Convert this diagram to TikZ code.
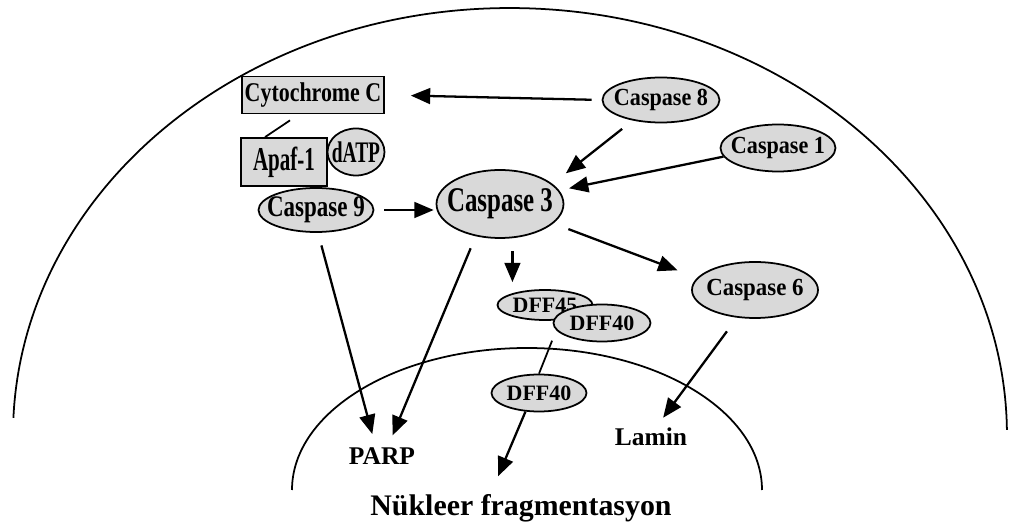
\documentclass[tikz,border=0pt]{standalone}
\usepackage{fontspec}
\setmainfont{Liberation Serif}
\usetikzlibrary{arrows.meta,shapes.geometric,calc}
\newcommand{\narrowtxt}[2]{\makebox[0pt]{\scalebox{#1}[1]{#2}}}
\tikzset{
  casp/.style={ellipse, draw, line width=1pt, fill=gray!30, inner sep=0pt,
    font=\bfseries\fontsize{14}{15}\selectfont},
  boxed/.style={rectangle, draw, line width=1pt, fill=gray!30, inner sep=0pt},
  lbl/.style={inner sep=2pt, font=\bfseries\fontsize{14.5}{16}\selectfont},
  arr/.style={line width=1.3pt, -{Triangle[length=11pt,width=9pt]}},
  link/.style={line width=1pt},
  memb/.style={line width=1pt}
}

\begin{document}
\begin{tikzpicture}[x=0.02cm, y=0.02cm]
\useasboundingbox (0,0) rectangle (1009,-530);

    % Cell membrane and nucleus.
    \draw[memb] (13.4,-417.9) arc[start angle=177.7, end angle=0.7, x radius=497, y radius=427];
    \draw[memb] (292,-490) arc[start angle=180, end angle=0, x radius=235, y radius=142];

    % Mitochondrial side.
    \node[boxed, minimum width=2.84cm, minimum height=0.74cm, font=\bfseries\fontsize{15.4}{16}\selectfont] (cytc) at (313,-95) {\narrowtxt{0.81}{Cytochrome C}};
    \node[boxed, minimum width=1.72cm, minimum height=0.96cm, font=\bfseries\fontsize{19}{20}\selectfont] (apaf) at (284,-162) {\narrowtxt{0.63}{Apaf-1}};
    \node[casp, minimum width=1.14cm, minimum height=0.94cm, font=\bfseries\fontsize{17}{18}\selectfont] (datp) at (356,-152) {\narrowtxt{0.65}{dATP}};

    % Caspases.
    \node[casp, minimum width=2.3cm, minimum height=0.88cm, font=\bfseries\fontsize{17}{18}\selectfont] (casp9) at (316,-210) {\narrowtxt{0.77}{Caspase 9}};
    \node[casp, minimum width=2.54cm, minimum height=1.36cm, font=\bfseries\fontsize{19.7}{21}\selectfont] (casp3) at (500,-204) {\narrowtxt{0.72}{Caspase 3}};
    \node[casp, minimum width=2.34cm, minimum height=0.9cm] (casp8) at (661,-100) {\narrowtxt{0.9}{Caspase 8}};
    \node[casp, minimum width=2.3cm, minimum height=0.94cm] (casp1) at (778,-148) {\narrowtxt{0.9}{Caspase 1}};
    \node[casp, minimum width=2.52cm, minimum height=1.12cm] (casp6) at (755,-290) {\narrowtxt{0.93}{Caspase 6}};

    % DFF complex.
    \node[casp, minimum width=1.9cm, minimum height=0.6cm, font=\bfseries\fontsize{12.5}{14}\selectfont] (dff45) at (545,-305) {\narrowtxt{1}{DFF45}};
    \node[casp, minimum width=1.94cm, minimum height=0.74cm, font=\bfseries\fontsize{12.5}{14}\selectfont] (dff40a) at (602,-323) {\narrowtxt{1}{DFF40}};
    \node[casp, minimum width=1.9cm, minimum height=0.74cm, font=\bfseries\fontsize{12.5}{14}\selectfont] (dff40b) at (539,-393) {\narrowtxt{1}{DFF40}};

    % Targets.
    \node[lbl] (parp) at (382,-456) {PARP};
    \node[lbl] (lamin) at (651,-437) {Lamin};
    \node[lbl, font=\bfseries\fontsize{17}{19}\selectfont] (nukleer) at (521,-508) {Nükleer fragmentasyon};

    % Connectors.
    \draw[arr, shorten <=0.2cm, shorten >=0.52cm] (casp8.west) -- (cytc.east);
    \draw[link] ([xshift=-0.46cm,yshift=-0.12cm]cytc.south) -- ([xshift=-0.38cm]apaf.north);
    \draw[arr, shorten <=0.27cm, shorten >=0.34cm] (casp8.216) -- (casp3.21);
    \draw[arr, shorten >=0.2cm] (casp1.189) -- (casp3.13);
    \draw[arr, shorten <=0.2cm, shorten >=0.04cm] (casp9.east) -- (casp9.east -| casp3.west);
    \draw[arr, shorten <=0.26cm, shorten >=0.14cm] (casp3.-70) -- (casp3.-70 |- dff45.north);
    \draw[arr, shorten <=0.32cm, shorten >=0.42cm] (casp3.-20) -- (casp6.168);
    \draw[arr, shorten <=0.26cm, shorten >=0.18cm] (casp3.233) -- (parp.60);
    \draw[arr, shorten <=0.26cm, shorten >=0.2cm] (casp9.-85) -- (parp.120);
    \draw[link] ([xshift=-0.3cm,yshift=-0.08cm]dff40a.south west) -- (dff40b.north);
    \draw[arr] (dff40b.234) -- ([xshift=-0.46cm,yshift=0.28cm]nukleer.north);
    \draw[arr, shorten <=0.34cm, shorten >=0.16cm] (casp6.237) -- (lamin.60);

\end{tikzpicture}
\end{document}
